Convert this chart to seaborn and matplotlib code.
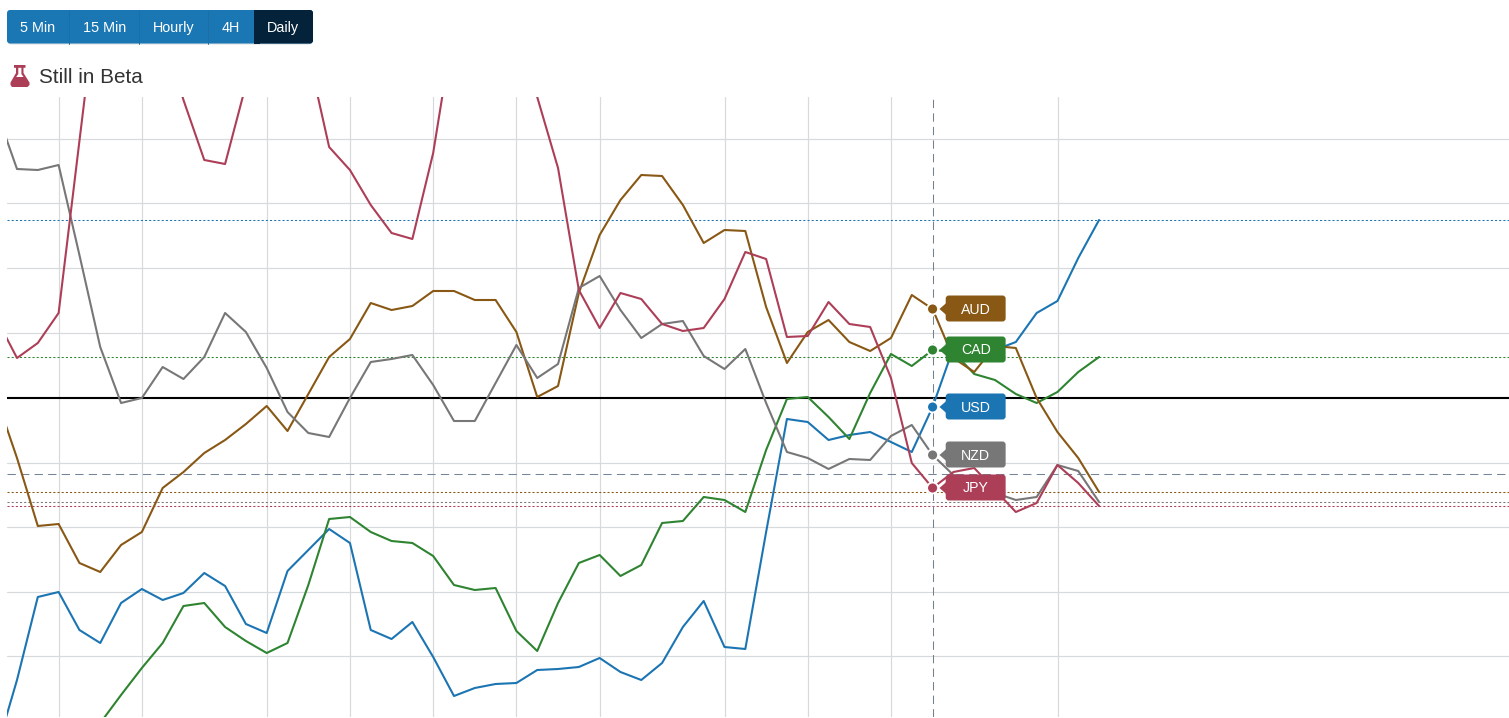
"""Currency strength chart with timeframe buttons."""
import pandas as pd
import matplotlib.pyplot as plt
from matplotlib.patches import FancyBboxPatch, Polygon, Rectangle
import seaborn as sns

# values are strength points relative to the zero line (one grid step = about 65)
steps = list(range(-1, 53))
usd = [-353, -282, -199, -194, -232, -245, -205, -191, -202, -195, -175, -188, -226, -235, -173, -152, -131, -145, -232, -241, -224, -259, -298, -290, -286, -285, -272, -271, -269, -260, -274, -282, -265, -229, -203, -249, -251, -134, -21, -24, -42, -37, -34, -44, -54, -9, 50, 49, 48, 56, 85, 97, 140, 178]
cad = [-472, -442, -412, -382, -352, -325, -297, -270, -245, -208, -205, -229, -243, -255, -245, -187, -121, -119, -134, -143, -145, -158, -187, -192, -190, -233, -253, -205, -165, -157, -178, -167, -125, -123, -99, -102, -114, -52, -1, 1, -19, -41, 5, 44, 32, 48, 46, 24, 18, 4, -5, 6, 26, 41]
aud = [1, -60, -128, -126, -165, -174, -147, -134, -90, -74, -55, -42, -26, -8, -33, 4, 41, 59, 95, 88, 92, 107, 107, 98, 98, 66, 1, 12, 105, 163, 198, 223, 222, 193, 155, 168, 167, 91, 35, 66, 78, 56, 47, 60, 103, 89, 40, 26, 52, 50, 0, -34, -60, -94]
nzd = [288, 229, 228, 233, 143, 51, -5, 0, 31, 19, 41, 85, 66, 30, -14, -35, -39, 0, 36, 39, 43, 13, -23, -23, 15, 53, 20, 34, 110, 122, 88, 60, 74, 77, 42, 29, 49, -5, -54, -60, -71, -61, -62, -38, -27, -57, -77, -87, -95, -102, -99, -67, -73, -104]
jpy = [80, 40, 55, 85, 257, 428, 388, 418, 368, 298, 238, 234, 313, 358, 368, 344, 251, 228, 193, 165, 159, 245, 374, 398, 418, 378, 301, 230, 108, 70, 105, 99, 74, 67, 70, 99, 146, 139, 61, 62, 96, 74, 71, 20, -65, -90, -74, -70, -92, -114, -105, -67, -85, -108]
currencies = ["USD", "CAD", "AUD", "NZD", "JPY"]
colors = ["#1c75b3", "#2e8431", "#885814", "#777777", "#ad3e58"]
grid_x = [2, 6, 12, 16, 20, 24, 28, 34, 38, 42, 50.05]
grid_y = [-258, -193.5, -129, -64.5, 65.5, 130.5, 195, 259.5]
ref_levels = [178, 41, -94, -104, -108]
current_step = 44
mid_level = -76
buttons = ["5 Min", "15 Min", "Hourly", "4H", "Daily"]

series = [usd, cad, aud, nzd, jpy]
df = pd.concat([
    pd.DataFrame({"step": steps, "value": vals, "currency": name})
    for name, vals in zip(currencies, series)
])
palette = dict(zip(currencies, colors))

sns.set_theme(style="white")
plt.rcParams["font.family"] = ["Liberation Sans", "DejaVu Sans"]

fig = plt.figure(figsize=(15.09, 7.18), dpi=100)
ax = fig.add_axes([7 / 1509, 1 / 718, 1502 / 1509, 620 / 718])
ax.set_xlim(-0.4805, 71.7)
ax.set_ylim(-319, 301)
ax.set_xticks(grid_x)
ax.set_yticks(grid_y)
ax.tick_params(length=0, labelbottom=False, labelleft=False)
ax.grid(True, color="#d6dadc", linewidth=0.85)
ax.set_axisbelow(True)
sns.despine(ax=ax, left=True, bottom=True)

ax.axhline(0, color="black", linewidth=1.5, zorder=1.5)
ax.axhline(mid_level, color="#74859a", linewidth=0.75, linestyle=(0, (8, 5)), zorder=1.5)
for name, level in zip(currencies, ref_levels):
    ax.axhline(level, color=palette[name], linewidth=0.75, linestyle=(0, (2, 2)), zorder=1.5)
ax.axvline(current_step, color="#74808c", linewidth=0.75, linestyle=(0, (8, 5)), zorder=1.6)

sns.lineplot(
    data=df, x="step", y="value", hue="currency", hue_order=currencies,
    palette=palette, estimator=None, sort=False, linewidth=1.5, legend=False, ax=ax,
)

# markers and tags at the current step
now = df[df["step"] == current_step]
sns.scatterplot(
    data=now, x="step", y="value", hue="currency", hue_order=currencies, palette=palette,
    s=62, edgecolor="white", linewidth=1.3, legend=False, ax=ax, zorder=5, clip_on=False,
)
ax.set_xlabel("")
ax.set_ylabel("")
for name, val in zip(now["currency"], now["value"]):
    tag = FancyBboxPatch(
        (current_step + 0.63, val - 12.5), 2.88, 26,
        boxstyle="round,pad=0,rounding_size=0.15", mutation_aspect=20.8,
        facecolor=palette[name], edgecolor="none", zorder=6,
    )
    ax.add_patch(tag)
    ax.add_patch(Polygon(
        [(current_step + 0.33, val), (current_step + 0.66, val + 6), (current_step + 0.66, val - 6)],
        facecolor=palette[name], edgecolor="none", zorder=6,
    ))
    ax.text(current_step + 2.07, val + 1, name, color="white", fontsize=10.2, ha="center", va="center_baseline", zorder=7)

# header drawn in pixel coordinates
top = fig.add_axes([0, 0, 1, 1], zorder=10)
top.set_xlim(0, 1509)
top.set_ylim(718, 0)
top.axis("off")
top.patch.set_alpha(0)
top.add_patch(FancyBboxPatch((8, 11), 304, 33.5, boxstyle="round,pad=0,rounding_size=3", facecolor="#b9bec2", edgecolor="none", alpha=0.5))
top.add_patch(FancyBboxPatch((7, 10), 306, 33.5, boxstyle="round,pad=0,rounding_size=3", facecolor="#1b77b3", edgecolor="none"))
top.add_patch(FancyBboxPatch((254, 10), 59, 33.5, boxstyle="round,pad=0,rounding_size=3", facecolor="#04233a", edgecolor="none"))
top.add_patch(Rectangle((254, 10), 6, 33.5, facecolor="#04233a", edgecolor="none"))
for edge in [68.5, 138.5, 207.5]:
    top.plot([edge, edge], [10, 43.5], color="#1a6fa6", linewidth=0.7)
for label, cx in zip(buttons, [37.5, 105, 173.5, 231, 283]):
    top.text(cx, 26.5, label, color="white", fontsize=10.4, ha="center", va="center_baseline")
flask = [(14, 65), (25.5, 65), (25.5, 67.8), (23.5, 67.8), (23.5, 73), (29.5, 82.5), (29.5, 85), (27.5, 87), (12, 87), (10.5, 85), (10.5, 82.5), (16, 73), (16, 67.8), (14, 67.8)]
top.add_patch(Polygon(flask, facecolor="#ad3e58", edgecolor="none"))
top.add_patch(Polygon([(18.3, 67.8), (21.4, 67.8), (21.4, 74), (23.5, 77), (16.2, 77), (18.3, 74)], facecolor="white", edgecolor="none"))
top.text(39, 75.5, "Still in Beta", color="#333333", fontsize=14.9, ha="left", va="center_baseline")

fig.savefig("out.png", dpi=100)
